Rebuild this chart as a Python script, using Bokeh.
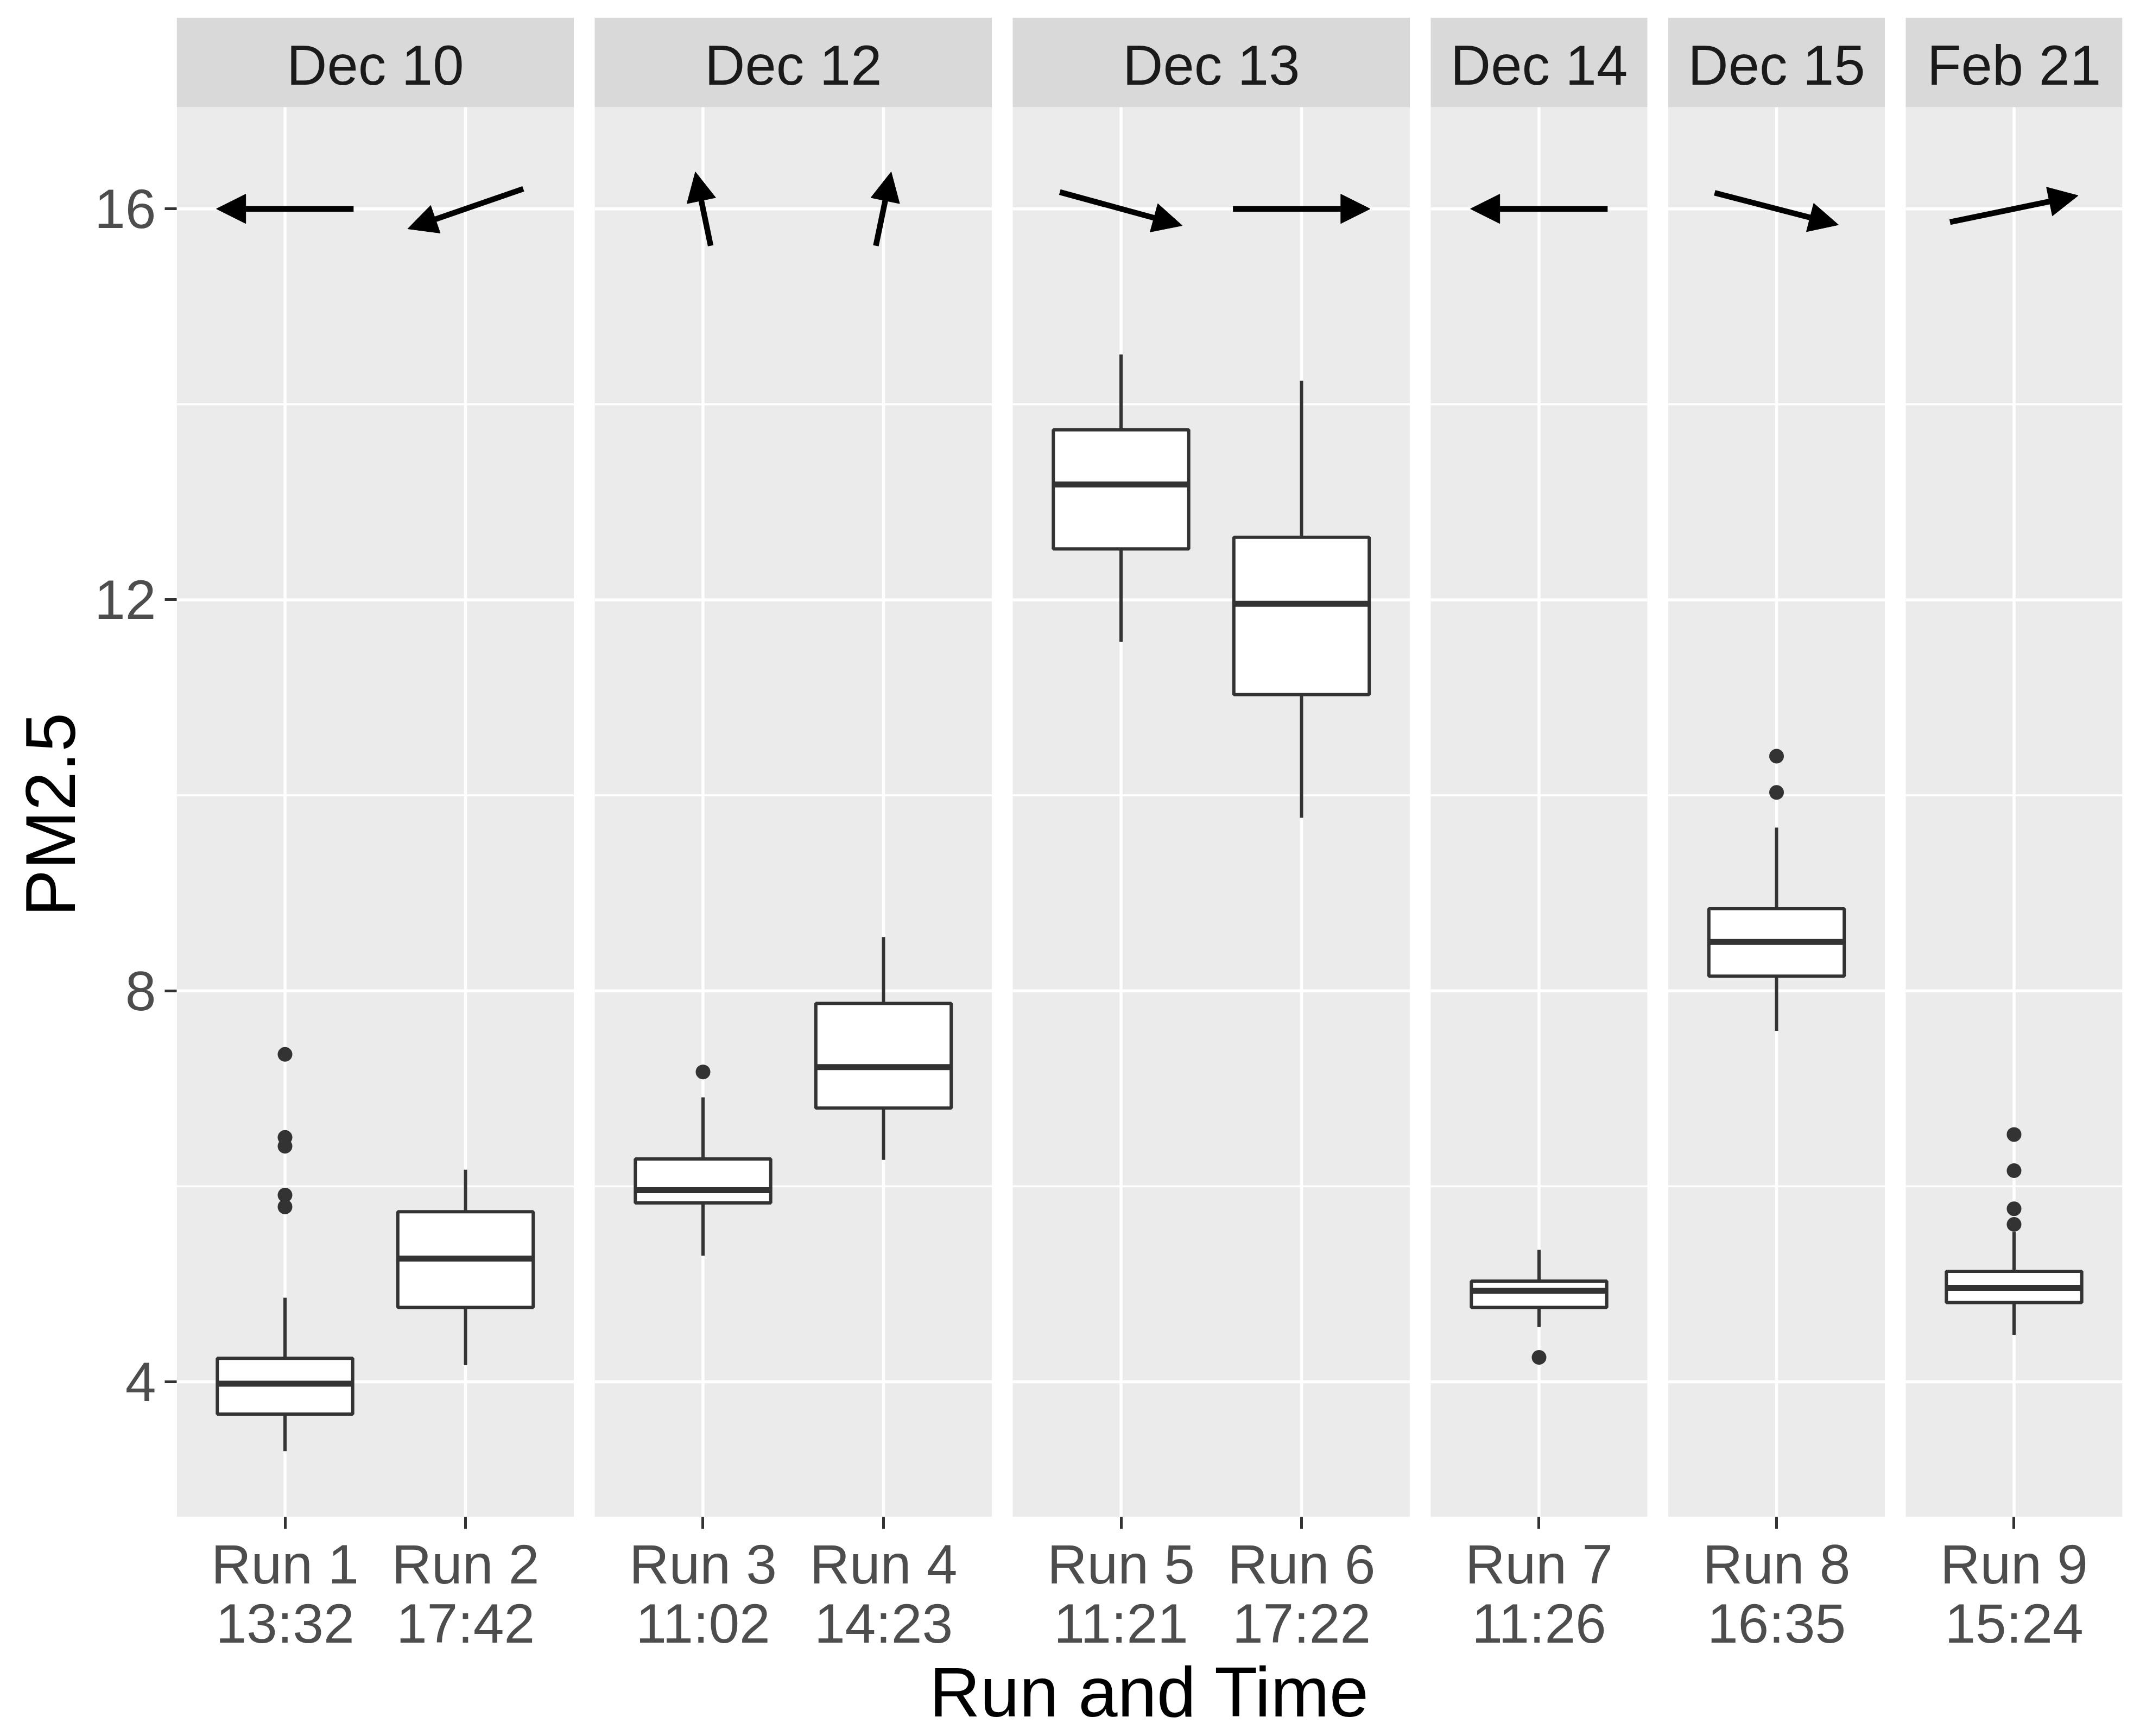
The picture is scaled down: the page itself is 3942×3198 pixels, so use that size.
import math
from bokeh.plotting import figure
from bokeh.models import ColumnDataSource, Range1d, FixedTicker, Arrow, NormalHead, Title
from bokeh.embed import file_html
from bokeh.resources import INLINE
from bokeh.core.properties import value

# ---------------- data ----------------
runs = ["Run 1", "Run 2", "Run 3", "Run 4", "Run 5", "Run 6", "Run 7", "Run 8", "Run 9"]
times = ["13:32", "17:42", "11:02", "14:23", "11:21", "17:22", "11:26", "16:35", "15:24"]
dates = ["Dec 10", "Dec 10", "Dec 12", "Dec 12", "Dec 13", "Dec 13", "Dec 14", "Dec 15", "Feb 21"]

whisker_low = [3.29, 4.17, 5.29, 6.27, 11.57, 9.77, 4.56, 7.59, 4.48]
q1 = [3.67, 4.76, 5.83, 6.80, 12.52, 11.03, 4.76, 8.15, 4.81]
median = [3.98, 5.26, 5.96, 7.22, 13.18, 11.96, 4.93, 8.50, 4.96]
q3 = [4.24, 5.74, 6.28, 7.87, 13.74, 12.64, 5.03, 8.84, 5.13]
whisker_high = [4.86, 6.17, 6.91, 8.55, 14.51, 14.24, 5.35, 9.67, 5.53]

outlier_run = ["Run 1", "Run 1", "Run 1", "Run 1", "Run 1", "Run 3", "Run 7",
               "Run 8", "Run 8", "Run 9", "Run 9", "Run 9", "Run 9"]
outlier_val = [7.35, 6.50, 6.41, 5.91, 5.79, 7.17, 4.25,
               10.40, 10.03, 6.53, 6.16, 5.77, 5.61]

# wind direction arrows (direction the arrow points, degrees, counter-clockwise from +x)
arrow_angle = [180.0, 212.6, 96.4, 83.6, 333.2, 0.0, 180.0, 334.5, 20.9]
arrow_y = 16.0
arrow_half = 0.38

y_ticks = [4, 8, 12, 16]
y_minor = [6, 10, 14]

# ---------------- layout helpers ----------------
FONT = "Liberation Sans"
EXPAND = 0.6
GAP = 38.5 / 332.5
Y_LO, PANEL_TOP, Y_HI = 2.617, 17.04, 17.956
BOX_W = 0.75
INK = "#333333"

panel_names = []
for d in dates:
    if d not in panel_names:
        panel_names.append(d)

xpos = [0.0] * len(runs)
panels = []
start = 0.0
for name in panel_names:
    idx = [i for i, d in enumerate(dates) if d == name]
    for k, i in enumerate(idx):
        xpos[i] = round(start + EXPAND + k, 6)
    right = start + 2 * EXPAND + (len(idx) - 1)
    panels.append((name, start, right))
    start = right + GAP
X_END = panels[-1][2]

p = figure(width=3942, height=3198,
           x_range=Range1d(0, X_END), y_range=Range1d(Y_LO, Y_HI),
           output_backend="svg", toolbar_location=None,
           min_border_left=325, min_border_right=33,
           min_border_top=32, min_border_bottom=404)
p.outline_line_color = None
p.xgrid.visible = False
p.ygrid.visible = False
p.background_fill_color = "white"
p.border_fill_color = "white"

lefts = [pn[1] for pn in panels]
rights = [pn[2] for pn in panels]
centers = [(pn[1] + pn[2]) / 2 for pn in panels]

# panel backgrounds and strips
p.quad(left=lefts, right=rights, bottom=Y_LO, top=PANEL_TOP,
       fill_color="#EBEBEB", line_color=None)
p.quad(left=lefts, right=rights, bottom=PANEL_TOP, top=Y_HI,
       fill_color="#D9D9D9", line_color=None)
p.text(x=centers, y=[17.467] * len(centers), text=panel_names,
       text_align="center", text_baseline="alphabetic",
       text_font=value(FONT), text_font_size="103px", text_color="#1A1A1A")

# grid lines
for yv, lw in [(v, 3.5) for v in y_minor] + [(v, 5.5) for v in y_ticks]:
    p.segment(x0=lefts, x1=rights, y0=[yv] * len(lefts), y1=[yv] * len(lefts),
              line_color="white", line_width=lw)
p.segment(x0=xpos, x1=xpos, y0=[Y_LO] * len(xpos), y1=[PANEL_TOP] * len(xpos),
          line_color="white", line_width=5.5)

# boxplots
src = ColumnDataSource(dict(
    x=xpos, lo=whisker_low, q1=q1, med=median, q3=q3, hi=whisker_high,
    left=[x - BOX_W / 2 for x in xpos], right=[x + BOX_W / 2 for x in xpos]))
p.segment(x0="x", x1="x", y0="q3", y1="hi", source=src, line_color=INK, line_width=6)
p.segment(x0="x", x1="x", y0="lo", y1="q1", source=src, line_color=INK, line_width=6)
p.vbar(x="x", width=BOX_W, bottom="q1", top="q3", source=src,
       fill_color="white", line_color=INK, line_width=6)
p.segment(x0="left", x1="right", y0="med", y1="med", source=src,
          line_color=INK, line_width=11)

ox = [xpos[runs.index(r)] for r in outlier_run]
p.scatter(x=ox, y=outlier_val, size=27, fill_color=INK, line_color=None)

# wind arrows
ax0, ax1, ay0, ay1 = [], [], [], []
for x, a in zip(xpos, arrow_angle):
    c, s = math.cos(math.radians(a)), math.sin(math.radians(a))
    ax0.append(x - arrow_half * c)
    ax1.append(x + arrow_half * c)
    ay0.append(arrow_y - arrow_half * s)
    ay1.append(arrow_y + arrow_half * s)
asrc = ColumnDataSource(dict(x0=ax0, x1=ax1, y0=ay0, y1=ay1))
p.add_layout(Arrow(end=NormalHead(size=54, fill_color="black", line_color="black", line_width=1),
                   x_start="x0", y_start="y0", x_end="x1", y_end="y1", source=asrc,
                   line_color="black", line_width=10.5))

# axes
p.xaxis.ticker = FixedTicker(ticks=xpos, minor_ticks=[])
p.xaxis.major_label_overrides = {x: f"{r}\n{t}" for x, r, t in zip(xpos, runs, times)}
p.xaxis.axis_label = "Run and Time"
p.yaxis.ticker = FixedTicker(ticks=y_ticks, minor_ticks=[])

for ax in (p.xaxis[0], p.yaxis[0]):
    ax.axis_line_color = None
    ax.major_tick_line_color = INK
    ax.major_tick_line_width = 5
    ax.major_tick_out = 22
    ax.major_tick_in = 0
    ax.minor_tick_line_color = None
    ax.major_label_text_font = FONT
    ax.major_label_text_font_size = "102px"
    ax.major_label_text_color = "#4D4D4D"
    ax.axis_label_text_font = FONT
    ax.axis_label_text_font_size = "130px"
    ax.axis_label_text_color = "black"
    ax.axis_label_text_font_style = "normal"

p.xaxis.major_label_standoff = 8
p.xaxis.major_label_text_line_height = 0.96
p.xaxis.axis_label_standoff = -7
p.yaxis.major_label_standoff = 16

# y-axis title, centred on the panel area (below the strips)
p.add_layout(Title(text="PM2.5", align="left", offset=1106, standoff=12,
                   text_font=FONT, text_font_size="130px", text_font_style="normal",
                   text_color="black"), "left")

open("out.html", "w").write(file_html(p, INLINE))
